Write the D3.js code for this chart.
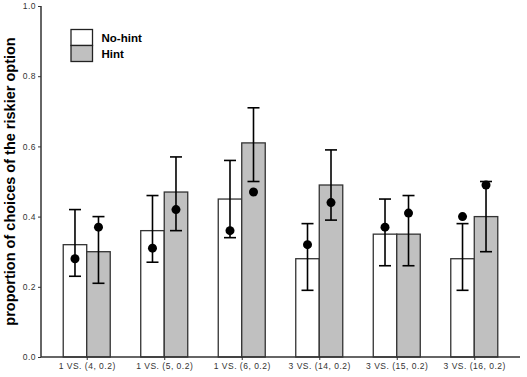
<!DOCTYPE html>
<html>
<head>
<meta charset="utf-8">
<script src="https://cdn.jsdelivr.net/npm/d3@7"></script>
<style>
  body { margin: 0; background: #fff; }
  svg { font-family: "Liberation Sans", Arial, sans-serif; }
</style>
</head>
<body>
<svg></svg>
<script>
const width = 527;
const height = 377;
const margin = { top: 6, right: 7, bottom: 20, left: 41 };

const categories = ['1 VS. (4, 0.2)', '1 VS. (5, 0.2)', '1 VS. (6, 0.2)', '3 VS. (14, 0.2)', '3 VS. (15, 0.2)', '3 VS. (16, 0.2)'];
const conditions = ['No-hint', 'Hint'];

// bar heights
const noHintMean = [0.32, 0.36, 0.45, 0.28, 0.35, 0.28];
const hintMean = [0.30, 0.47, 0.61, 0.49, 0.35, 0.40];
// error bars
const noHintLow = [0.23, 0.27, 0.34, 0.19, 0.26, 0.19];
const noHintHigh = [0.42, 0.46, 0.56, 0.38, 0.45, 0.38];
const hintLow = [0.21, 0.36, 0.50, 0.39, 0.26, 0.30];
const hintHigh = [0.40, 0.57, 0.71, 0.59, 0.46, 0.50];
// dots
const noHintDot = [0.28, 0.31, 0.36, 0.32, 0.37, 0.40];
const hintDot = [0.37, 0.42, 0.47, 0.44, 0.41, 0.49];

const yTicks = [0, 0.2, 0.4, 0.6, 0.8, 1.0];
const fills = ['#ffffff', '#c0c0c0'];

let svg = d3.select('svg').attr('width', width).attr('height', height);

let xScale = d3.scalePoint()
    .domain(categories)
    .range([margin.left, width - margin.right])
    .padding(0.59);

let barW = 23.5;
let sub = d3.scaleBand()
    .domain(conditions)
    .range([-barW, barW]);

let yScale = d3.scaleLinear()
    .domain([0, 1])
    .range([height - margin.bottom, margin.top]);

let rows = [];
categories.forEach((c, i) => {
    rows.push({ cat: c, cond: 'No-hint', mean: noHintMean[i], lo: noHintLow[i], hi: noHintHigh[i], dot: noHintDot[i] });
    rows.push({ cat: c, cond: 'Hint', mean: hintMean[i], lo: hintLow[i], hi: hintHigh[i], dot: hintDot[i] });
});

const cx = d => xScale(d.cat) + sub(d.cond) + sub.bandwidth() / 2;

// bars
svg.append('g').selectAll('rect')
    .data(rows)
    .enter()
    .append('rect')
    .attr('x', d => xScale(d.cat) + sub(d.cond))
    .attr('y', d => yScale(d.mean))
    .attr('width', sub.bandwidth())
    .attr('height', d => yScale(0) - yScale(d.mean))
    .attr('fill', d => d.cond === 'Hint' ? fills[1] : fills[0])
    .attr('stroke', '#333')
    .attr('stroke-width', 1.3);

// error bars
let err = svg.append('g').attr('stroke', '#000').attr('stroke-width', 1.6);
err.selectAll('.stem')
    .data(rows)
    .enter()
    .append('line')
    .attr('x1', cx).attr('x2', cx)
    .attr('y1', d => yScale(d.lo))
    .attr('y2', d => yScale(d.hi));
err.selectAll('.capTop')
    .data(rows)
    .enter()
    .append('line')
    .attr('x1', d => cx(d) - 6).attr('x2', d => cx(d) + 6)
    .attr('y1', d => yScale(d.hi)).attr('y2', d => yScale(d.hi));
err.selectAll('.capBot')
    .data(rows)
    .enter()
    .append('line')
    .attr('x1', d => cx(d) - 6).attr('x2', d => cx(d) + 6)
    .attr('y1', d => yScale(d.lo)).attr('y2', d => yScale(d.lo));

// dots
svg.append('g').selectAll('circle')
    .data(rows)
    .enter()
    .append('circle')
    .attr('cx', cx)
    .attr('cy', d => yScale(d.dot))
    .attr('r', 4.5)
    .attr('fill', '#000');

// axes
let xAxis = d3.axisBottom(xScale).tickSize(3).tickPadding(3);
let yAxis = d3.axisLeft(yScale).tickValues(yTicks).tickFormat(d3.format('.1f')).tickSize(3).tickPadding(2);

let gx = svg.append('g')
    .attr('transform', 'translate(0,' + yScale(0) + ')')
    .call(xAxis);
gx.select('.domain').attr('d', 'M' + margin.left + ',0H' + (width - margin.right));

let gy = svg.append('g')
    .attr('transform', 'translate(' + margin.left + ',0)')
    .call(yAxis);
gy.select('.domain').attr('d', 'M0,' + yScale(1) + 'V' + yScale(0));

[gx, gy].forEach(g => {
    g.select('.domain').attr('stroke', '#333').attr('stroke-width', 1.5);
    g.selectAll('.tick line').attr('stroke', '#333');
    g.selectAll('.tick text')
        .attr('fill', '#333')
        .style('font-size', '8.5px')
        .style('letter-spacing', '0.5px');
});

// y title
svg.append('text')
    .attr('transform', 'translate(15,' + yScale(0.5) + ') rotate(-90)')
    .attr('text-anchor', 'middle')
    .style('font-size', '14.5px')
    .style('font-weight', 'bold')
    .text('proportion of choices of the riskier option');

// legend
let legend = svg.append('g').attr('transform', 'translate(71,29.5)');
conditions.forEach((c, i) => {
    legend.append('rect')
        .attr('x', 0).attr('y', i * 16)
        .attr('width', 21.5).attr('height', 16)
        .attr('fill', fills[i])
        .attr('stroke', '#222')
        .attr('stroke-width', 1.3);
    legend.append('text')
        .attr('x', 30.5).attr('y', i * 16 + 12.5)
        .style('font-size', '11.5px')
        .style('font-weight', 'bold')
        .text(c);
});
</script>
</body>
</html>
